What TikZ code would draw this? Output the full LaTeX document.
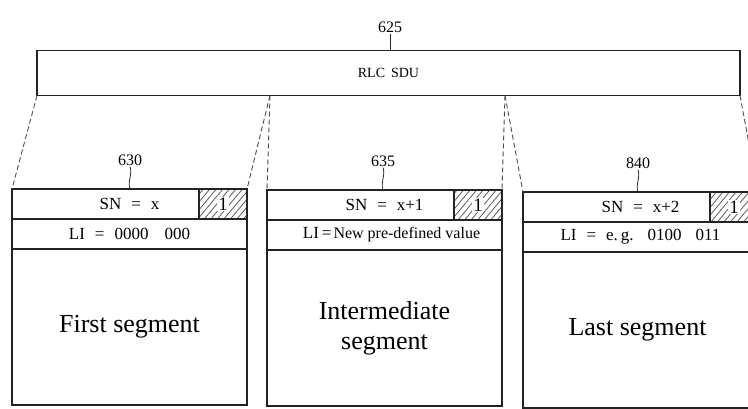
\documentclass[tikz,border=0pt]{standalone}
\usepackage{fontspec}
\setmainfont{Liberation Serif}
\definecolor{ink}{RGB}{35,35,35}
\definecolor{hatch}{RGB}{90,90,90}
\usetikzlibrary{positioning,patterns.meta}
\tikzset{
  sdubox/.style={draw=ink, line width=1.2pt, minimum width=703pt, minimum height=45pt,
              inner sep=0pt, outer sep=0pt, font=\fontsize{14}{16}\selectfont},
  rowbox/.style={draw=ink, line width=1.2pt, minimum width=235pt, minimum height=30pt,
              inner sep=0pt, outer sep=0pt, font=\fontsize{17}{19}\selectfont},
  flagbox/.style={draw=ink, line width=1.2pt, minimum width=48pt, minimum height=30pt,
              pattern={Lines[angle=50,distance=5pt,line width=0.8pt]}, pattern color=hatch,
              inner sep=0pt, outer sep=0pt, font=\fontsize{19}{21}\selectfont},
  segbody/.style={draw=ink, line width=1.2pt, minimum width=235pt, minimum height=156pt,
              inner sep=0pt, outer sep=0pt, align=center, font=\fontsize{26}{30}\selectfont},
  reflabel/.style={inner sep=1pt, font=\fontsize{16}{18}\selectfont},
  leader/.style={ink, line width=0.8pt},
  splitline/.style={ink!80, line width=0.9pt, dash pattern=on 5pt off 3pt},
}
\newcommand{\flagnum}{{\fboxsep=1pt\colorbox{white}{1}}}
\newcommand{\gap}{\hspace{10pt}}

\begin{document}
\begin{tikzpicture}[x=1pt,y=-1pt]
    \useasboundingbox (0,0) rectangle (748,408);
    \clip (0,0) rectangle (748,408);
    % the SDU
    \node[sdubox] (sdu) at (388.5,73) {RLC\hspace{6pt}SDU};
    \node[reflabel] (r625) at (390,27) {625};
    \draw[leader] (r625) -- (r625 |- sdu.north);
    % first segment
    \node[rowbox] (sn1) at (129.5,204) {SN\gap=\gap x\hspace{28pt}};
    \node[rowbox, below=0pt of sn1] (li1) {LI\gap=\gap 0000\hspace{16pt}000\hspace{10pt}};
    \node[segbody, below=0pt of li1] (body1) {First segment};
    \node[flagbox, anchor=east] (flag1) at (sn1.east) {\flagnum};
    \node[reflabel] (r630) at (130,160) {630};
    % intermediate segment
    \node[rowbox] (sn2) at (384.5,205) {SN\gap=\gap x+1\hspace{22pt}};
    \node[rowbox, below=0pt of sn2] (li2) {\hspace{14pt}LI\hspace{3pt}=\hspace{2pt}{\fontsize{16}{18}\selectfont New pre-defined value}};
    \node[segbody, below=0pt of li2] (body2) {Intermediate\\segment};
    \node[flagbox, anchor=east] (flag2) at (sn2.east) {\flagnum};
    \node[reflabel] (r635) at (383,161) {635};
    % last segment
    \node[rowbox] (sn3) at (640.5,207) {SN\gap=\gap x+2\hspace{22pt}};
    \node[rowbox, below=0pt of sn3] (li3) {LI\gap=\gap e.\,g.\hspace{14pt}0100\hspace{14pt}011\hspace{6pt}};
    \node[segbody, below=0pt of li3] (body3) {Last segment\hspace{6pt}};
    \node[flagbox, anchor=east] (flag3) at (sn3.east) {\flagnum};
    \node[reflabel] (r640) at (638,163) {840};
    % leaders to the segments
    \draw[leader] (r630.south) to[out=-70,in=110] (r630.south |- sn1.north);
    \draw[leader] (r635.south) to[out=-70,in=110] (r635.south |- sn2.north);
    \draw[leader] (r640.south) to[out=-70,in=110] (r640.south |- sn3.north);
    % cut points on the SDU
    \path (sdu.south west) ++(233,0) coordinate (cut1);
    \path (sdu.south west) ++(468,0) coordinate (cut2);
    \draw[splitline] (sdu.south west) -- (sn1.north west);
    \draw[splitline] (cut1) -- (sn1.north east);
    \draw[splitline] (cut1) -- (sn2.north west);
    \draw[splitline] (cut2) -- (sn2.north east);
    \draw[splitline] (cut2) -- (sn3.north west);
    \draw[splitline] (sdu.south east) -- (sn3.north east);
\end{tikzpicture}
\end{document}
